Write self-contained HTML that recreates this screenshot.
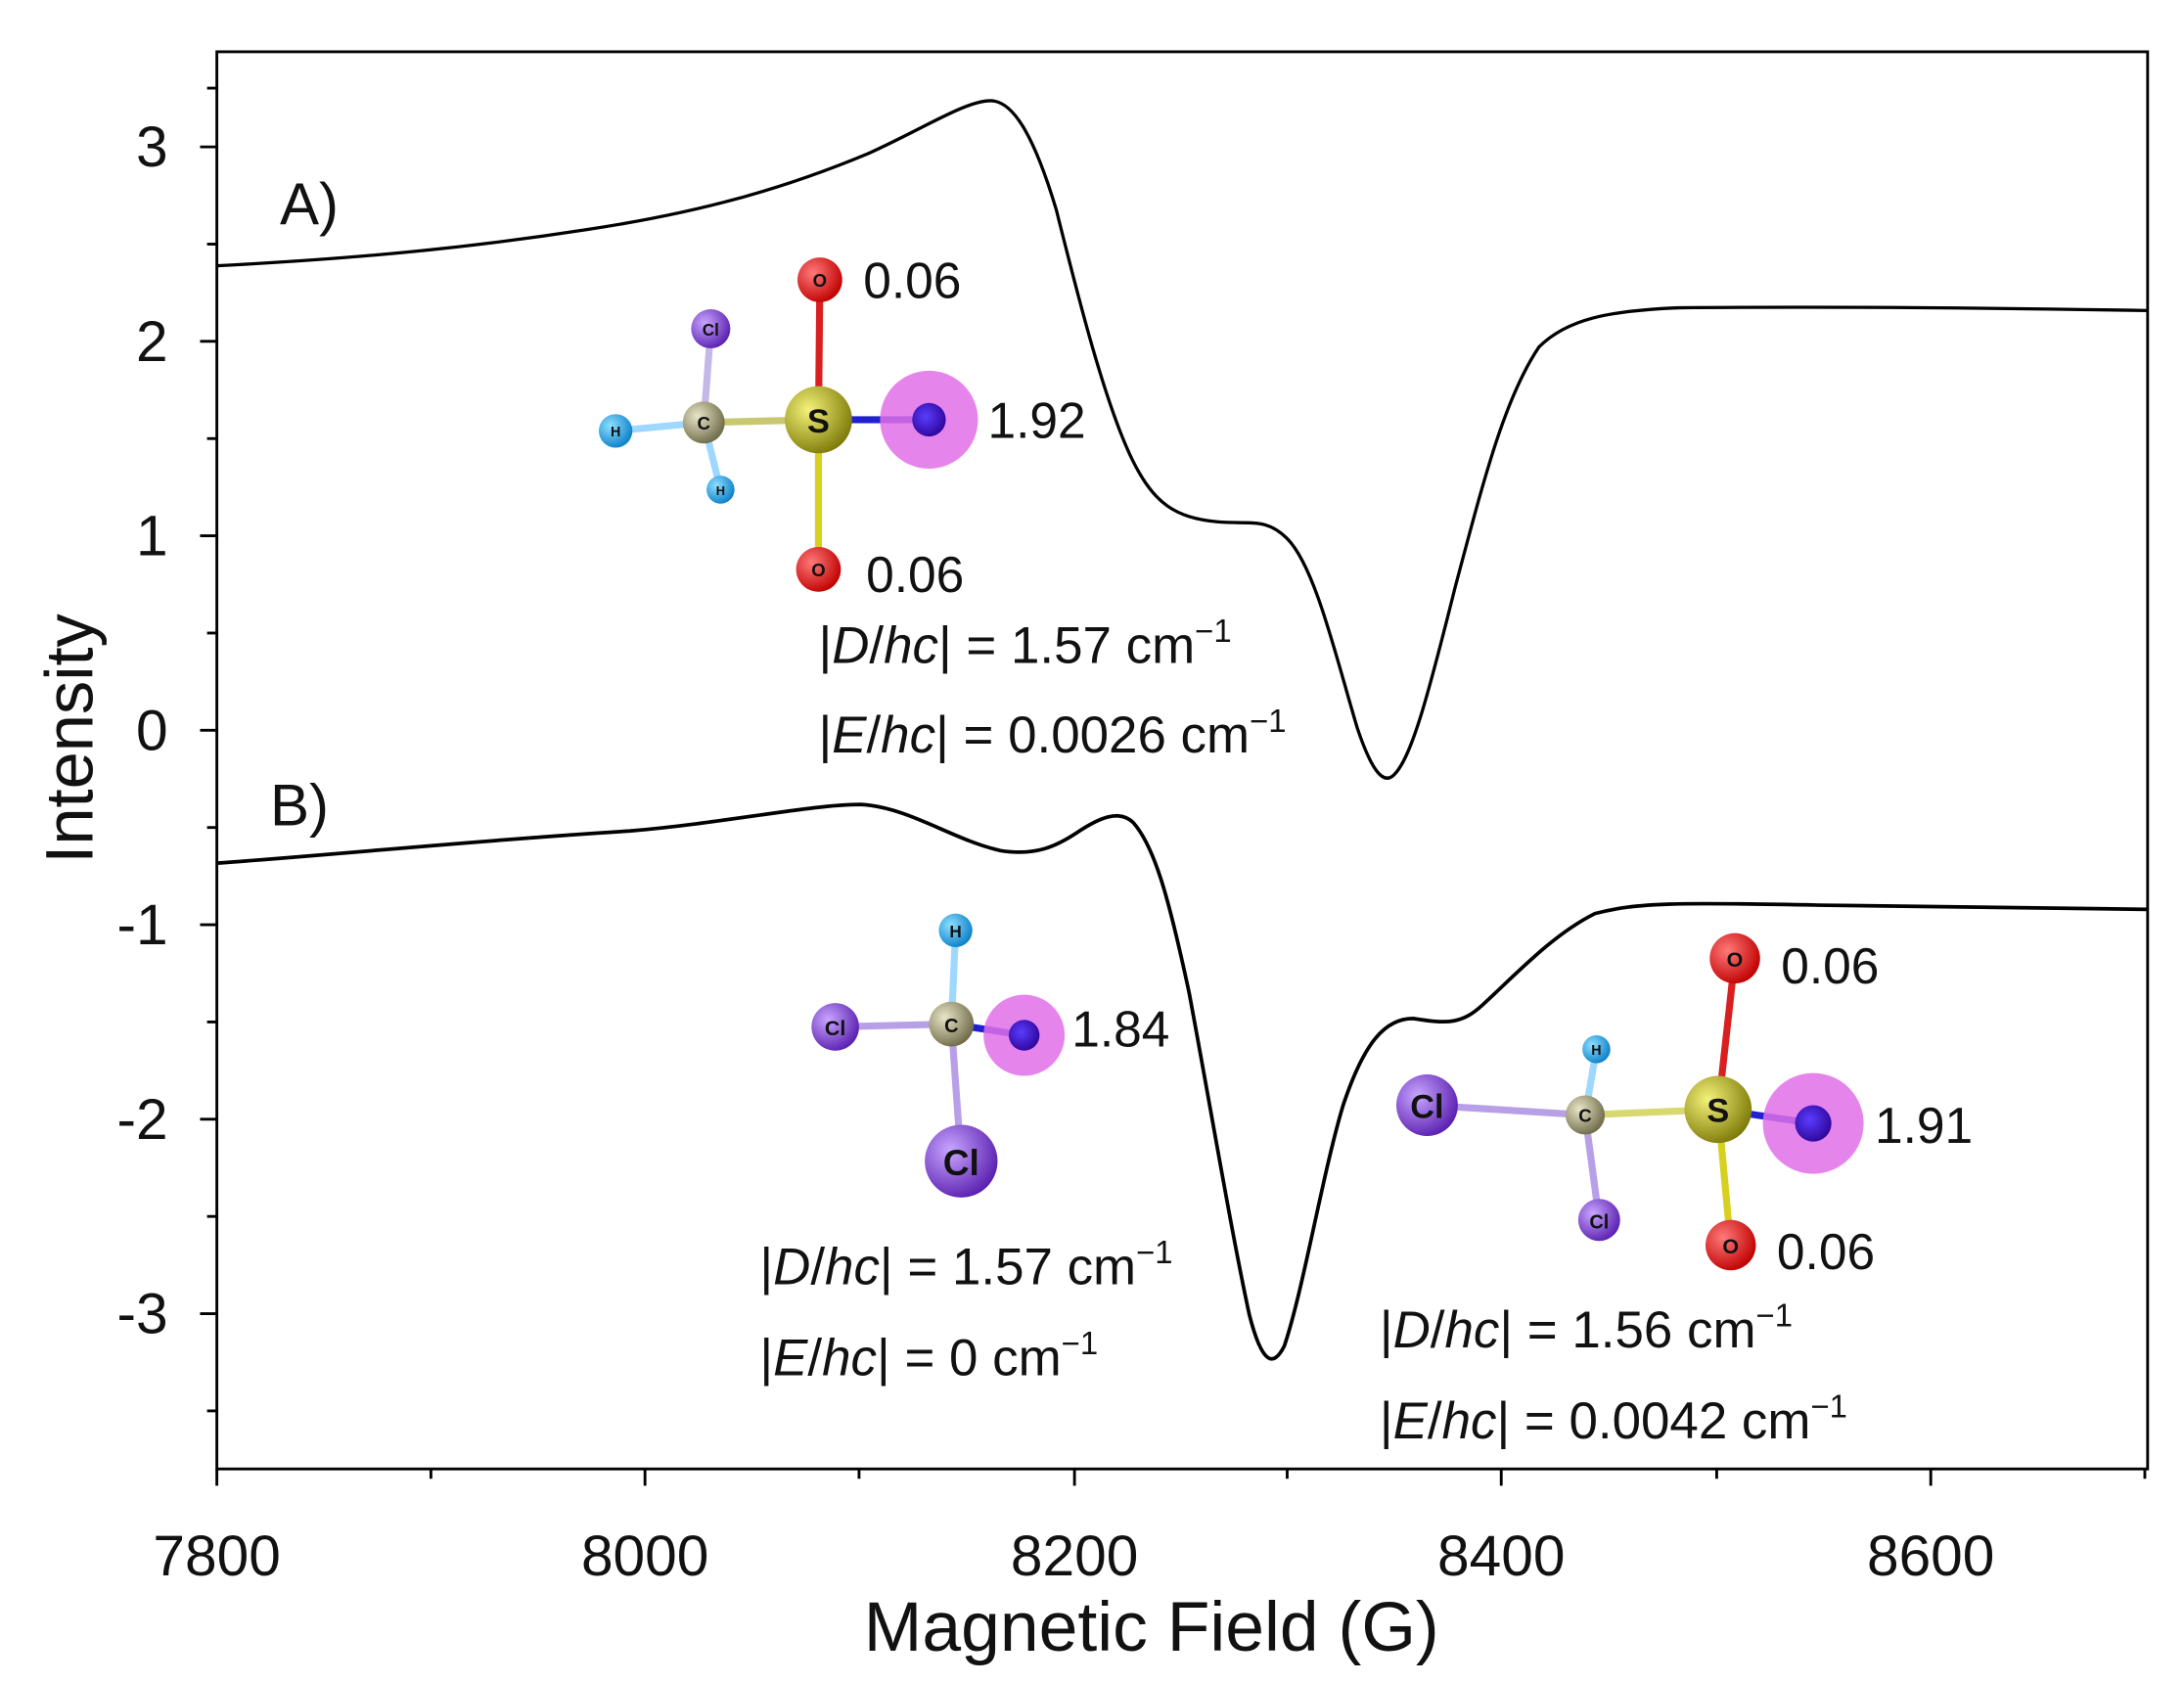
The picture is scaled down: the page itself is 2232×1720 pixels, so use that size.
<!DOCTYPE html>
<html><head><meta charset="utf-8"><style>html,body{margin:0;padding:0;background:#fff}svg{display:block}</style></head><body>
<svg width="2232" height="1720" viewBox="0 0 1561 1203" preserveAspectRatio="none" xmlns="http://www.w3.org/2000/svg" font-family="Liberation Sans, sans-serif">
<defs>
<radialGradient id="gH" cx="35%" cy="35%" r="70%"><stop offset="0" stop-color="#8fe0ff"/><stop offset="1" stop-color="#0a7fc8"/></radialGradient>
<radialGradient id="gC" cx="35%" cy="35%" r="70%"><stop offset="0" stop-color="#e8e6c8"/><stop offset="1" stop-color="#6e6a48"/></radialGradient>
<radialGradient id="gCl" cx="35%" cy="35%" r="70%"><stop offset="0" stop-color="#c9a6ff"/><stop offset="1" stop-color="#5a1fb0"/></radialGradient>
<radialGradient id="gS" cx="35%" cy="35%" r="70%"><stop offset="0" stop-color="#f4f27a"/><stop offset="1" stop-color="#7e7a08"/></radialGradient>
<radialGradient id="gO" cx="35%" cy="35%" r="70%"><stop offset="0" stop-color="#ff7a7a"/><stop offset="1" stop-color="#c00000"/></radialGradient>
<radialGradient id="gN" cx="40%" cy="40%" r="70%"><stop offset="0" stop-color="#5a3cff"/><stop offset="1" stop-color="#2a0090"/></radialGradient>
</defs>
<rect x="155" y="37" width="1380" height="1013" fill="none" stroke="#000" stroke-width="2"/>
<g stroke="#000" stroke-width="2">
<line x1="155" y1="105" x2="143" y2="105"/><line x1="155" y1="244" x2="143" y2="244"/><line x1="155" y1="383" x2="143" y2="383"/><line x1="155" y1="522" x2="143" y2="522"/><line x1="155" y1="661" x2="143" y2="661"/><line x1="155" y1="800" x2="143" y2="800"/><line x1="155" y1="939" x2="143" y2="939"/>
<line x1="155" y1="174.5" x2="148" y2="174.5"/><line x1="155" y1="313.5" x2="148" y2="313.5"/><line x1="155" y1="452.5" x2="148" y2="452.5"/><line x1="155" y1="591.5" x2="148" y2="591.5"/><line x1="155" y1="730.5" x2="148" y2="730.5"/><line x1="155" y1="869.5" x2="148" y2="869.5"/><line x1="155" y1="1008.5" x2="148" y2="1008.5"/><line x1="155" y1="63" x2="148" y2="63"/>
<line x1="155" y1="1050" x2="155" y2="1062"/><line x1="461" y1="1050" x2="461" y2="1062"/><line x1="768" y1="1050" x2="768" y2="1062"/><line x1="1073" y1="1050" x2="1073" y2="1062"/><line x1="1380" y1="1050" x2="1380" y2="1062"/>
<line x1="308" y1="1050" x2="308" y2="1057"/><line x1="614" y1="1050" x2="614" y2="1057"/><line x1="920" y1="1050" x2="920" y2="1057"/><line x1="1227" y1="1050" x2="1227" y2="1057"/><line x1="1533" y1="1050" x2="1533" y2="1057"/>
</g>
<g font-size="41" text-anchor="end" fill="#111">
<text x="120" y="119">3</text><text x="120" y="258">2</text><text x="120" y="397">1</text><text x="120" y="536">0</text><text x="120" y="675">-1</text><text x="120" y="814">-2</text><text x="120" y="953">-3</text>
</g>
<g font-size="41" text-anchor="middle" fill="#111">
<text x="155" y="1126">7800</text><text x="461" y="1126">8000</text><text x="768" y="1126">8200</text><text x="1073" y="1126">8400</text><text x="1380" y="1126">8600</text>
</g>
<text x="823" y="1180" font-size="50" text-anchor="middle" fill="#111">Magnetic Field (G)</text>
<text transform="translate(66,528) rotate(-90)" font-size="48" text-anchor="middle" fill="#111">Intensity</text>
<path fill="none" stroke="#000" stroke-width="2.3" stroke-linejoin="round" d="M155,190 C250,185 330,178 420,164 C500,152 560,135 620,110 C660,92 690,72 708,72 C725,72 740,100 755,150 C770,210 790,290 810,330 C825,360 840,370 870,373 C895,375 905,370 920,385 C940,405 955,470 970,520 C980,550 988,560 995,555 C1008,545 1020,500 1040,420 C1060,345 1075,285 1100,248 C1120,228 1150,222 1200,220 C1300,219 1420,220 1535,222"/>
<path fill="none" stroke="#000" stroke-width="2.6" stroke-linejoin="round" d="M155,617 C250,610 350,600 450,594 C520,588 580,575 615,575 C650,577 680,600 715,608 C740,612 755,605 770,595 C785,585 800,578 810,588 C825,605 835,640 850,710 C865,790 880,880 893,940 C902,975 910,978 918,962 C932,920 945,840 960,790 C975,745 990,728 1010,728 C1035,732 1045,732 1060,718 C1085,695 1110,668 1140,653 C1170,645 1200,645 1300,647 C1400,648 1480,649 1535,650"/>
<text x="200" y="160" font-size="42" fill="#111">A)</text>
<text x="193" y="590" font-size="42" fill="#111">B)</text>
<!-- Molecule A -->
<g stroke-width="5">
<line x1="440" y1="308" x2="503" y2="302" stroke="#9fd8ff"/>
<line x1="503" y1="302" x2="508" y2="235" stroke="#c4b8e8"/>
<line x1="503" y1="302" x2="515" y2="350" stroke="#9fd8ff"/>
<line x1="503" y1="302" x2="585" y2="300" stroke="#c8c870"/>
<line x1="585" y1="300" x2="586" y2="200" stroke="#d82020"/>
<line x1="585" y1="300" x2="585" y2="407" stroke="#d8d020"/>
<line x1="585" y1="300" x2="664" y2="300" stroke="#2020d0"/>
</g>
<circle cx="664" cy="300" r="35" fill="#e070e8" opacity="0.85"/>
<circle cx="664" cy="300" r="12" fill="url(#gN)"/>
<circle cx="440" cy="308" r="12" fill="url(#gH)"/>
<circle cx="508" cy="235" r="14" fill="url(#gCl)"/>
<circle cx="515" cy="350" r="10" fill="url(#gH)"/>
<circle cx="503" cy="302" r="15" fill="url(#gC)"/>
<circle cx="585" cy="300" r="24" fill="url(#gS)"/>
<circle cx="586" cy="200" r="16" fill="url(#gO)"/>
<circle cx="585" cy="407" r="16" fill="url(#gO)"/>
<g font-weight="bold" text-anchor="middle" fill="#111">
<text x="440" y="312" font-size="10">H</text><text x="508" y="240" font-size="12">Cl</text><text x="515" y="354" font-size="9">H</text><text x="503" y="307" font-size="13">C</text><text x="585" y="309" font-size="24">S</text><text x="586" y="205" font-size="13">O</text><text x="585" y="412" font-size="13">O</text>
</g>
<g font-size="36" fill="#111">
<text x="617" y="213">0.06</text><text x="706" y="313">1.92</text><text x="619" y="423">0.06</text>
<text x="585" y="474" font-size="37">|<tspan font-style="italic">D</tspan>/<tspan font-style="italic">hc</tspan>| = 1.57 cm<tspan font-size="23" dy="-15">−1</tspan></text>
<text x="585" y="538" font-size="37">|<tspan font-style="italic">E</tspan>/<tspan font-style="italic">hc</tspan>| = 0.0026 cm<tspan font-size="23" dy="-15">−1</tspan></text>
</g>
<!-- Molecule B1 -->
<g stroke-width="5">
<line x1="680" y1="732" x2="683" y2="665" stroke="#9fd8ff"/>
<line x1="680" y1="732" x2="597" y2="734" stroke="#b8a0e8"/>
<line x1="680" y1="732" x2="687" y2="830" stroke="#b8a0e8"/>
<line x1="680" y1="732" x2="732" y2="740" stroke="#2020d0"/>
</g>
<circle cx="732" cy="740" r="29" fill="#e070e8" opacity="0.85"/>
<circle cx="732" cy="740" r="11" fill="url(#gN)"/>
<circle cx="683" cy="665" r="12" fill="url(#gH)"/>
<circle cx="597" cy="734" r="17" fill="url(#gCl)"/>
<circle cx="687" cy="830" r="26" fill="url(#gCl)"/>
<circle cx="680" cy="732" r="16" fill="url(#gC)"/>
<g font-weight="bold" text-anchor="middle" fill="#111">
<text x="683" y="670" font-size="12">H</text><text x="597" y="740" font-size="15">Cl</text><text x="687" y="840" font-size="26">Cl</text><text x="680" y="738" font-size="14">C</text>
</g>
<g font-size="36" fill="#111">
<text x="766" y="748">1.84</text>
<text x="543" y="918" font-size="37">|<tspan font-style="italic">D</tspan>/<tspan font-style="italic">hc</tspan>| = 1.57 cm<tspan font-size="23" dy="-15">−1</tspan></text>
<text x="543" y="983" font-size="37">|<tspan font-style="italic">E</tspan>/<tspan font-style="italic">hc</tspan>| = 0 cm<tspan font-size="23" dy="-15">−1</tspan></text>
</g>
<!-- Molecule B2 -->
<g stroke-width="5">
<line x1="1020" y1="790" x2="1133" y2="797" stroke="#b8a0e8"/>
<line x1="1133" y1="797" x2="1141" y2="750" stroke="#9fd8ff"/>
<line x1="1133" y1="797" x2="1143" y2="872" stroke="#b8a0e8"/>
<line x1="1133" y1="797" x2="1228" y2="793" stroke="#d8d870"/>
<line x1="1228" y1="793" x2="1240" y2="685" stroke="#d82020"/>
<line x1="1228" y1="793" x2="1237" y2="890" stroke="#d8d020"/>
<line x1="1228" y1="793" x2="1296" y2="803" stroke="#2020d0"/>
</g>
<circle cx="1296" cy="803" r="36" fill="#e070e8" opacity="0.85"/>
<circle cx="1296" cy="803" r="13" fill="url(#gN)"/>
<circle cx="1020" cy="790" r="22" fill="url(#gCl)"/>
<circle cx="1141" cy="750" r="10" fill="url(#gH)"/>
<circle cx="1143" cy="872" r="15" fill="url(#gCl)"/>
<circle cx="1133" cy="797" r="14" fill="url(#gC)"/>
<circle cx="1228" cy="793" r="24" fill="url(#gS)"/>
<circle cx="1240" cy="685" r="18" fill="url(#gO)"/>
<circle cx="1237" cy="890" r="18" fill="url(#gO)"/>
<g font-weight="bold" text-anchor="middle" fill="#111">
<text x="1020" y="799" font-size="24">Cl</text><text x="1141" y="754" font-size="10">H</text><text x="1143" y="878" font-size="14">Cl</text><text x="1133" y="802" font-size="13">C</text><text x="1228" y="802" font-size="24">S</text><text x="1240" y="691" font-size="15">O</text><text x="1237" y="896" font-size="15">O</text>
</g>
<g font-size="36" fill="#111">
<text x="1273" y="703">0.06</text><text x="1340" y="817">1.91</text><text x="1270" y="907">0.06</text>
<text x="986" y="963" font-size="37">|<tspan font-style="italic">D</tspan>/<tspan font-style="italic">hc</tspan>| = 1.56 cm<tspan font-size="23" dy="-15">−1</tspan></text>
<text x="986" y="1028" font-size="37">|<tspan font-style="italic">E</tspan>/<tspan font-style="italic">hc</tspan>| = 0.0042 cm<tspan font-size="23" dy="-15">−1</tspan></text>
</g>
</svg>
</body></html>
